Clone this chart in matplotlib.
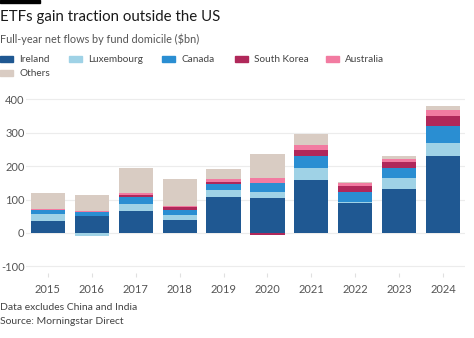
import matplotlib
matplotlib.use("Agg")
import matplotlib.pyplot as plt
from matplotlib.patches import Rectangle
import numpy as np

plt.rcParams['font.family'] = ['Lato', 'DejaVu Sans']

years = ["2015", "2016", "2017", "2018", "2019", "2020", "2021", "2022", "2023", "2024"]
series_names = ["Ireland", "Luxembourg", "Canada", "South Korea", "Australia", "Others"]
ireland = [37, 50, 65, 38, 108, 105, 157, 91, 132, 229]
luxembourg = [20, -8, 23, 17, 19, 18, 36, 2, 31, 40]
canada = [13, 12, 20, 13, 20, 27, 38, 29, 30, 50]
south_korea = [0, 1, 5, 10, 6, -7, 16, 18, 18, 30]
australia = [3, 2, 7, 4, 7, 13, 17, 8, 11, 20]
others = [47, 49, 74, 78, 30, 74, 32, 5, 9, 12]
yticks = [-100, 0, 100, 200, 300, 400]

colors = ["#1f5892", "#9fd2e6", "#2a8ed2", "#b0285a", "#f27ba1", "#d9ccc3"]
data = [ireland, luxembourg, canada, south_korea, australia, others]

W, H = 474, 338
fig = plt.figure(figsize=(W / 100, H / 100), dpi=100)
fig.patch.set_facecolor("white")

ax = fig.add_axes([26 / W, 1 - 273 / H, 439 / W, 180.4 / H])
x = np.arange(len(years))
pos_bottom = np.zeros(len(years))
neg_bottom = np.zeros(len(years))
for vals, col in zip(data, colors):
    v = np.array(vals, dtype=float)
    bottoms = np.where(v >= 0, pos_bottom, neg_bottom)
    ax.bar(x, v, bottom=bottoms, width=0.78, color=col, linewidth=0, zorder=3)
    pos_bottom += np.where(v >= 0, v, 0)
    neg_bottom += np.where(v < 0, v, 0)

ax.set_xlim(-0.5, len(years) - 0.5)
ax.set_ylim(-120, 420)
ax.set_yticks(yticks)
ax.set_yticklabels([str(t) for t in yticks])
ax.set_xticks(x)
ax.set_xticklabels(years)
ax.grid(axis='y', color="#ececec", linewidth=0.8, zorder=0)
for s in ax.spines.values():
    s.set_visible(False)
ax.tick_params(axis='y', length=0, pad=1, labelsize=8, labelcolor="#555555")
ax.tick_params(axis='x', length=3, color="#e0e0e0", pad=5, labelsize=8, labelcolor="#555555")

# top black bar
fig.patches.append(Rectangle((0, 1 - 3 / H), 40 / W, 3 / H, transform=fig.transFigure,
                             color="black", zorder=5))
fig.text(0 / W, 1 - 17 / H, "ETFs gain traction outside the US", fontsize=10.8,
         color="#1a1a1a", va="center", ha="left")
fig.text(0 / W, 1 - 39 / H, "Full-year net flows by fund domicile ($bn)", fontsize=7.8,
         color="#555555", va="center", ha="left")

# legend
leg_pos = [(0, 59), (69, 59), (162, 59), (235, 59), (326, 59), (0, 73)]
for name, col, (lx, ly) in zip(series_names, colors, leg_pos):
    fig.patches.append(Rectangle((lx / W, 1 - (ly + 3) / H), 13 / W, 6 / H,
                                 transform=fig.transFigure, color=col))
    fig.text((lx + 19) / W, 1 - ly / H, name, fontsize=7.2, color="#444444",
             va="center", ha="left")

fig.text(0, 1 - 308 / H, "Data excludes China and India", fontsize=7.5,
         color="#444444", va="center", ha="left")
fig.text(0, 1 - 321 / H, "Source: Morningstar Direct", fontsize=7.5,
         color="#444444", va="center", ha="left")

fig.savefig("out.png", dpi=100, facecolor="white")
